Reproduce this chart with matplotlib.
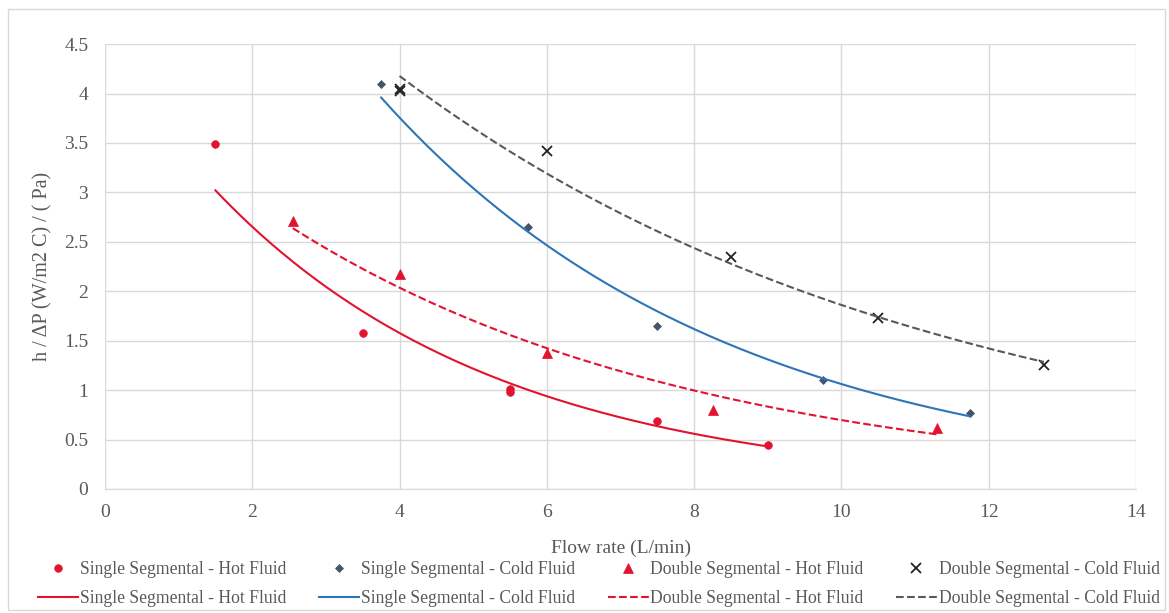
import matplotlib.pyplot as plt
import numpy as np
from matplotlib.patches import Rectangle

plt.rcParams['font.family'] = ['Liberation Serif', 'DejaVu Serif']

# measured points
ss_hot_x = [1.5, 3.5, 5.5, 5.5, 7.5, 9.0]
ss_hot_y = [3.49, 1.58, 1.01, 0.98, 0.69, 0.45]

ss_cold_x = [3.75, 5.75, 7.5, 9.75, 11.75]
ss_cold_y = [4.10, 2.65, 1.65, 1.10, 0.77]

ds_hot_x = [2.55, 4.0, 6.0, 8.25, 11.3]
ds_hot_y = [2.71, 2.17, 1.38, 0.80, 0.62]

ds_cold_x = [4.0, 4.0, 6.0, 8.5, 10.5, 12.75]
ds_cold_y = [4.05, 4.03, 3.42, 2.35, 1.73, 1.25]

names = ['Single Segmental - Hot Fluid', 'Single Segmental - Cold Fluid',
         'Double Segmental - Hot Fluid', 'Double Segmental - Cold Fluid']

red = '#E3132F'
blue = '#2E75B6'
grey = '#44546A'

series = [
    (ss_hot_x, ss_hot_y, red, 'o', 5.5, '-', red),
    (ss_cold_x, ss_cold_y, grey, 'D', 4.2, '-', blue),
    (ds_hot_x, ds_hot_y, red, '^', 6.5, '--', red),
    (ds_cold_x, ds_cold_y, '#222222', 'x', 6.5, '--', '#595959'),
]

fig = plt.figure(figsize=(11.69, 6.13), dpi=100)
ax = fig.add_axes([0.0898, 0.2023, 0.8820, 0.7257])
fig.patches.append(Rectangle((0.007, 0.005), 0.99, 0.98, transform=fig.transFigure,
                             fill=False, edgecolor='#D9D9D9', linewidth=1))

handles = []
for (x, y, mc, mk, ms, ls, lc), name in zip(series, names):
    x = np.array(x)
    y = np.array(y)
    m = ax.plot(x, y, linestyle='none', marker=mk, color=mc, markersize=ms,
                markeredgewidth=1.3 if mk == 'x' else 0.5, label=name)[0]
    # exponential trendline (least squares on log y)
    b, a = np.polyfit(x, np.log(y), 1)
    xx = np.linspace(x.min(), x.max(), 200)
    l = ax.plot(xx, np.exp(a + b * xx), linestyle=ls, color=lc, linewidth=1.5,
                label=name)[0]
    handles += [m, l]

ax.set_xlim(0, 14)
ax.set_ylim(0, 4.5)
ax.set_xticks(np.arange(0, 15, 2))
ax.set_yticks(np.arange(0, 4.6, 0.5))
ax.set_yticklabels(['0', '0.5', '1', '1.5', '2', '2.5', '3', '3.5', '4', '4.5'])
ax.grid(True, color='#D9D9D9', linewidth=1)
ax.set_axisbelow(True)
for s in ['top', 'right', 'left']:
    ax.spines[s].set_visible(False)
ax.spines['bottom'].set_color('#D9D9D9')
ax.tick_params(length=0, labelsize=14, colors='#595959')
ax.tick_params(axis='x', pad=11)
ax.tick_params(axis='y', pad=12)

ax.set_xlabel('Flow rate (L/min)', fontsize=14, color='#595959', labelpad=13)
ax.set_ylabel('h / \u0394P (W/m2 C) / ( Pa)', fontsize=14.5, color='#595959', labelpad=8)

fig.legend(handles=handles, loc='lower center', bbox_to_anchor=(0.512, -0.016), ncol=4,
           frameon=False, fontsize=12.7, labelcolor='#595959', handlelength=2.3,
           columnspacing=1.85, handletextpad=0.1, labelspacing=0.65)

fig.savefig('out.png', dpi=100)
